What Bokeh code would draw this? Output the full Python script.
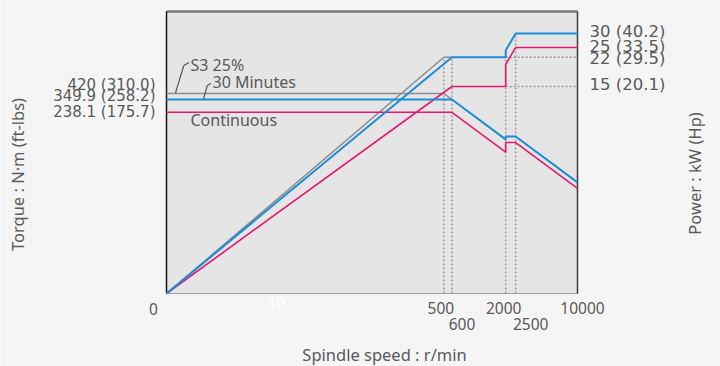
import math

from bokeh.embed import file_html
from bokeh.models import Arrow, Label, LogScale, Range1d
from bokeh.plotting import figure
from bokeh.resources import INLINE

# ---- data -------------------------------------------------------------
# speed axis (r/min), log scale from the chart origin to 10000
speed_min, speed_max = 1, 10000
power_min, power_max = 1, 40          # kW, log scale
torque_min, torque_max = 1, 5000      # N·m, log scale

# S3 25% duty
s3_speed = [1, 500, 600]
s3_torque = [420, 420, 349.9]
s3_power = [1, 22, 22]

# 30-minute rating
m30_speed = [1, 600, 2000, 2000, 2500, 10000]
m30_torque = [349.9, 349.9, 105.0, 114.6, 114.6, 28.65]
m30_power = [1, 22, 22, 24, 30, 30]

# continuous rating
cont_speed = [1, 600, 2000, 2000, 2500, 10000]
cont_torque = [238.1, 238.1, 71.4, 95.5, 95.5, 23.9]
cont_power = [1, 15, 15, 20, 25, 25]

# reference guides
guide_v_speed = [500, 600, 2000, 2500]
guide_v_power = [22, 22, 24, 30]
guide_h_power = [22, 15]
guide_h_from = 2000

# tick labels
speed_ticks = [10, 500, 600, 2000, 2500, 10000]
torque_ticks = [420, 349.9, 238.1]
torque_ftlbs = ["310.0", "258.2", "175.7"]
power_ticks = [30, 25, 22, 15]
power_hp = ["40.2", "33.5", "29.5", "20.1"]

# ---- layout & styling -------------------------------------------------
W, H = 720, 366
AREA_L, AREA_R, AREA_T, AREA_B = 166, 577, 11, 293   # plotting area in canvas px

FONT = "Noto Sans"
NUM_FONT = "DejaVu Sans"
TXT = "#595959"
BLUE = "#1b8dd6"
PINK = "#e2196f"
GREY = "#8c8c8c"
DOT = "#9a9a9a"


def padded_log_range(lo, hi, inner_px, pad_lo_px, pad_hi_px):
    """Log range whose [lo, hi] spans inner_px, padded so the frame fills the canvas."""
    per_px = math.log10(hi / lo) / inner_px
    return Range1d(lo / 10 ** (pad_lo_px * per_px), hi * 10 ** (pad_hi_px * per_px))


x_rng = padded_log_range(speed_min, speed_max, AREA_R - AREA_L, AREA_L, W - AREA_R)
p_rng = padded_log_range(power_min, power_max, AREA_B - AREA_T, H - AREA_B, AREA_T)
t_rng = padded_log_range(torque_min, torque_max, AREA_B - AREA_T, H - AREA_B, AREA_T)

p = figure(
    width=W, height=H,
    x_axis_type="log", y_axis_type="log",
    x_range=x_rng, y_range=p_rng,
    x_axis_location=None, y_axis_location=None,
    output_backend="svg", toolbar_location=None,
    min_border=0,
    background_fill_color="#f5f5f5", border_fill_color="#f5f5f5",
    outline_line_color=None,
)
p.grid.visible = False
p.extra_y_ranges = {"torque": t_rng}
p.extra_y_scales = {"torque": LogScale()}

# plotting area
p.quad(left=speed_min, right=speed_max, bottom=power_min, top=power_max,
       fill_color="#e5e5e5", line_color=None)

# dotted guides
p.segment(x0=guide_v_speed, y0=[power_min] * len(guide_v_speed),
          x1=guide_v_speed, y1=guide_v_power,
          line_color=DOT, line_width=1.5, line_dash="2 2")
p.segment(x0=[guide_h_from] * len(guide_h_power), y0=guide_h_power,
          x1=[speed_max] * len(guide_h_power), y1=guide_h_power,
          line_color=DOT, line_width=1.5, line_dash="2 2")

# frame edges
p.segment(x0=speed_min, y0=power_min, x1=speed_max, y1=power_min,
          line_color="#555555", line_width=1.2, line_dash="1 1")
p.segment(x0=speed_min, y0=power_max, x1=speed_max, y1=power_max,
          line_color="#7a7a7a", line_width=2.5)
p.segment(x0=speed_min, y0=power_min, x1=speed_min, y1=power_max,
          line_color="#111111", line_width=1.5)
p.segment(x0=speed_max, y0=power_min, x1=speed_max, y1=power_max,
          line_color="#3a3a3a", line_width=1.5)

# S3 25%
p.line(s3_speed, s3_power, line_color=GREY, line_width=1.5)
p.line(s3_speed, s3_torque, line_color=GREY, line_width=1.5, y_range_name="torque")
# continuous
p.line(cont_speed, cont_power, line_color=PINK, line_width=1.6)
p.line(cont_speed, cont_torque, line_color=PINK, line_width=1.6, y_range_name="torque")
# 30 minutes
p.line(m30_speed, m30_power, line_color=BLUE, line_width=2)
p.line(m30_speed, m30_torque, line_color=BLUE, line_width=2, y_range_name="torque")


def label(**kw):
    base = dict(text_font=FONT, text_font_size="16px", text_color=TXT)
    base.update(kw)
    p.add_layout(Label(**base))


# speed tick labels (staggered in two rows)
speed_dx = [7, -3, 10, -2, 15, 5]
speed_dy = [-9, -14, -30, -14, -30, -14]
for s, dx, dy in zip(speed_ticks, speed_dx, speed_dy):
    label(x=s, y=power_min, x_offset=dx, y_offset=dy, text_font_size="15.5px",
          text=f"{s}", text_align="center", text_baseline="middle",
          text_color="#ffffff" if s == 10 else TXT)
label(x=speed_min, y=power_min, x_offset=-13, y_offset=-15, text_font_size="15.5px",
      text="0", text_align="center", text_baseline="middle")

# torque tick labels
torque_dy = [9, 3.5, 0]
for t, ft, dy in zip(torque_ticks, torque_ftlbs, torque_dy):
    label(x=speed_min, y=t, y_range_name="torque",
          x_offset=-11, y_offset=dy, text=f"{t:g} ({ft})",
          text_font=NUM_FONT, text_font_size="15px",
          text_align="right", text_baseline="middle")

# power tick labels
power_dy = [2, 1, -1, 2]
for pw, hp, dy in zip(power_ticks, power_hp, power_dy):
    label(x=speed_max, y=pw, x_offset=12, y_offset=dy,
          text=f"{pw} ({hp})", text_font=NUM_FONT, text_font_size="16.5px",
          text_align="left", text_baseline="middle")

# curve names
label(x=speed_min, y=420, y_range_name="torque", x_offset=24, y_offset=29,
      text="S3 25%", text_baseline="middle")
label(x=speed_min, y=349.9, y_range_name="torque", x_offset=46, y_offset=18,
      text="30 Minutes", text_baseline="middle")
label(x=speed_min, y=238.1, y_range_name="torque", x_offset=24, y_offset=-8,
      text="Continuous", text_baseline="middle")

# leaders from the names to their curves (canvas px, measured from the top)
for pts in ([(175, 92.3), (183.3, 65), (188.5, 62)],
            [(203, 98.7), (206.7, 85), (210.5, 83)]):
    for (xa, ya), (xb, yb) in zip(pts[:-1], pts[1:]):
        p.add_layout(Arrow(x_start=xa, y_start=H - ya, x_end=xb, y_end=H - yb,
                           start_units="screen", end_units="screen",
                           start=None, end=None,
                           line_color="#555555", line_width=1.2))

# axis titles
label(x=17, y=H - 174, x_units="screen", y_units="screen", angle=math.pi / 2,
      text_font_size="16.5px",
      text="Torque : N·m (ft-lbs)", text_align="center", text_baseline="middle")
label(x=694, y=H - 173, x_units="screen", y_units="screen", angle=math.pi / 2,
      text_font_size="16.5px",
      text="Power : kW (Hp)", text_align="center", text_baseline="middle")
label(x=384, y=H - 354, x_units="screen", y_units="screen",
      text_font_size="16.5px",
      text="Spindle speed : r/min", text_align="center", text_baseline="middle")

open("out.html", "w").write(file_html(p, INLINE))
